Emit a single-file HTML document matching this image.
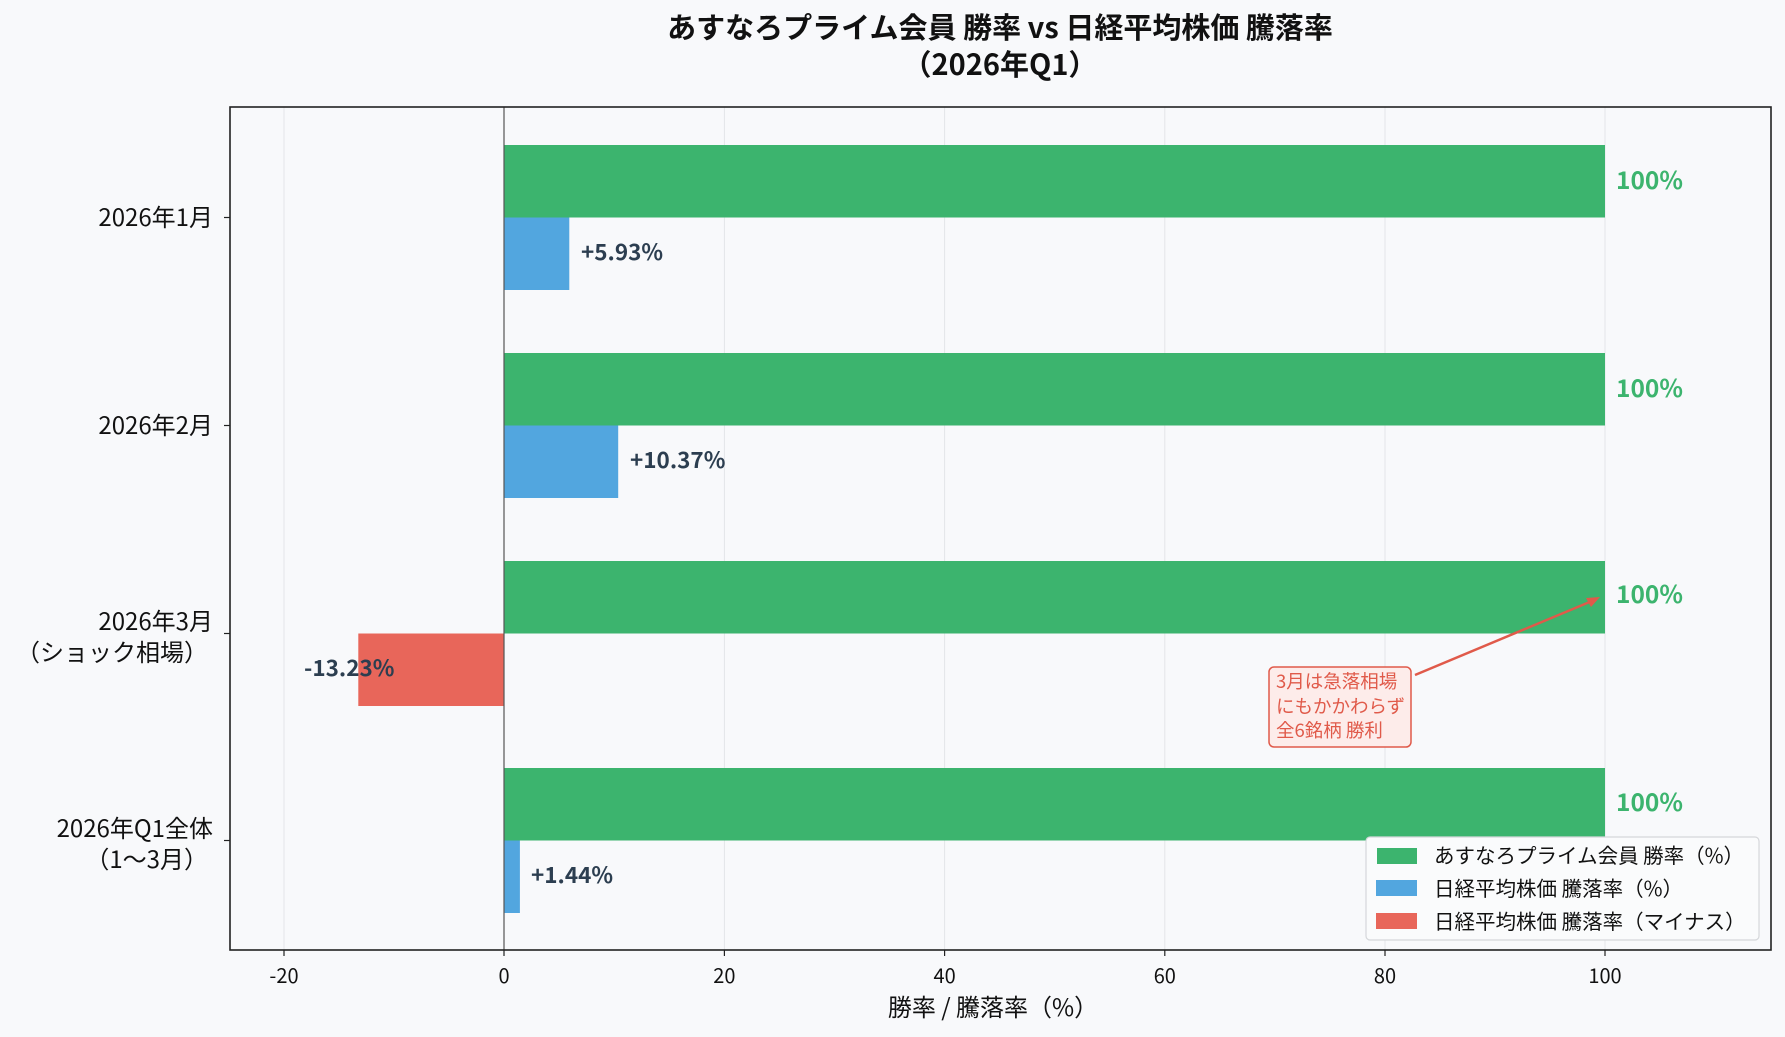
<!DOCTYPE html>
<html><head><meta charset="utf-8"><style>
html,body{margin:0;padding:0;background:#f8f9fb;}
svg{display:block;font-family:"Noto Sans CJK JP","Liberation Sans",sans-serif;}
</style></head><body>
<svg width="1785" height="1037" viewBox="0 0 1785 1037" xmlns="http://www.w3.org/2000/svg">
<rect width="1785" height="1037" fill="#f8f9fb"/>
<text x="1000" y="38" text-anchor="middle" font-size="29" font-weight="bold" fill="#111">あすなろプライム会員 勝率 vs 日経平均株価 騰落率</text>
<text x="1000" y="75" text-anchor="middle" font-size="29" font-weight="bold" fill="#111">（2026年Q1）</text>
<g stroke="#e3e5e8" stroke-width="1">
<line x1="284" y1="107" x2="284" y2="950"/>
<line x1="724.4" y1="107" x2="724.4" y2="950"/>
<line x1="944.6" y1="107" x2="944.6" y2="950"/>
<line x1="1164.8" y1="107" x2="1164.8" y2="950"/>
<line x1="1385" y1="107" x2="1385" y2="950"/>
<line x1="1605" y1="107" x2="1605" y2="950"/>
</g>
<g fill="#3cb46e">
<rect x="504" y="145" width="1101" height="72.5"/>
<rect x="504" y="353" width="1101" height="72.5"/>
<rect x="504" y="561" width="1101" height="72.5"/>
<rect x="504" y="768" width="1101" height="72.5"/>
</g>
<g fill="#52a6df">
<rect x="504" y="217.5" width="65.3" height="72.5"/>
<rect x="504" y="425.5" width="114.2" height="72.5"/>
<rect x="504" y="840.5" width="15.9" height="72.5"/>
</g>
<rect x="358.3" y="633.5" width="145.7" height="72.5" fill="#e8665a"/>
<line x1="504" y1="107" x2="504" y2="950" stroke="#555" stroke-width="1.2"/>
<g font-size="24.5" font-weight="bold" fill="#3cb46e">
<text x="1616" y="189">100%</text>
<text x="1616" y="397">100%</text>
<text x="1616" y="603">100%</text>
<text x="1616" y="811">100%</text>
</g>
<g font-size="22.5" font-weight="bold" fill="#2c3e50">
<text x="581" y="260">+5.93%</text>
<text x="630" y="468">+10.37%</text>
<text x="304" y="676">-13.23%</text>
<text x="531" y="883">+1.44%</text>
</g>
<line x1="1415" y1="675" x2="1592" y2="601" stroke="#e05a4a" stroke-width="2.5"/>
<polygon points="1600,597 1586,598 1591,607" fill="#e05a4a"/>
<rect x="1269" y="667" width="142" height="80" rx="5" fill="#fdecea" stroke="#e05a4a" stroke-width="1.5"/>
<g font-size="18.5" fill="#e05a4a">
<text x="1276" y="688">3月は急落相場</text>
<text x="1276" y="713">にもかかわらず</text>
<text x="1276" y="737">全6銘柄 勝利</text>
</g>
<rect x="230" y="107" width="1541" height="843" fill="none" stroke="#222" stroke-width="1.6"/>
<g stroke="#222" stroke-width="1.2">
<line x1="224" y1="217.5" x2="230" y2="217.5"/>
<line x1="224" y1="425.5" x2="230" y2="425.5"/>
<line x1="224" y1="633.5" x2="230" y2="633.5"/>
<line x1="224" y1="840.5" x2="230" y2="840.5"/>
<line x1="284" y1="950" x2="284" y2="956"/>
<line x1="504" y1="950" x2="504" y2="956"/>
<line x1="724.4" y1="950" x2="724.4" y2="956"/>
<line x1="944.6" y1="950" x2="944.6" y2="956"/>
<line x1="1164.8" y1="950" x2="1164.8" y2="956"/>
<line x1="1385" y1="950" x2="1385" y2="956"/>
<line x1="1605" y1="950" x2="1605" y2="956"/>
</g>
<g font-size="24" fill="#111" text-anchor="end">
<text x="213" y="226">2026年1月</text>
<text x="213" y="434">2026年2月</text>
<text x="213" y="630">2026年3月</text>
<text x="208" y="661">（ショック相場）</text>
<text x="213" y="837">2026年Q1全体</text>
<text x="208" y="868">（1～3月）</text>
</g>
<g font-size="20" fill="#111" text-anchor="middle">
<text x="284" y="983">-20</text>
<text x="504" y="983">0</text>
<text x="724.4" y="983">20</text>
<text x="944.6" y="983">40</text>
<text x="1164.8" y="983">60</text>
<text x="1385" y="983">80</text>
<text x="1605" y="983">100</text>
</g>
<text x="993" y="1016" text-anchor="middle" font-size="24" fill="#111">勝率 / 騰落率（%）</text>
<rect x="1366" y="837" width="393" height="103" rx="4" fill="#fafbfc" stroke="#d5d7da" stroke-width="1.2"/>
<rect x="1377" y="848" width="40" height="16" fill="#3cb46e"/>
<rect x="1376" y="880" width="41" height="16" fill="#52a6df"/>
<rect x="1376" y="913" width="41" height="16" fill="#e8665a"/>
<g font-size="20.5" fill="#111">
<text x="1434" y="863">あすなろプライム会員 勝率（%）</text>
<text x="1434" y="896">日経平均株価 騰落率（%）</text>
<text x="1434" y="929">日経平均株価 騰落率（マイナス）</text>
</g>
</svg>
</body></html>
